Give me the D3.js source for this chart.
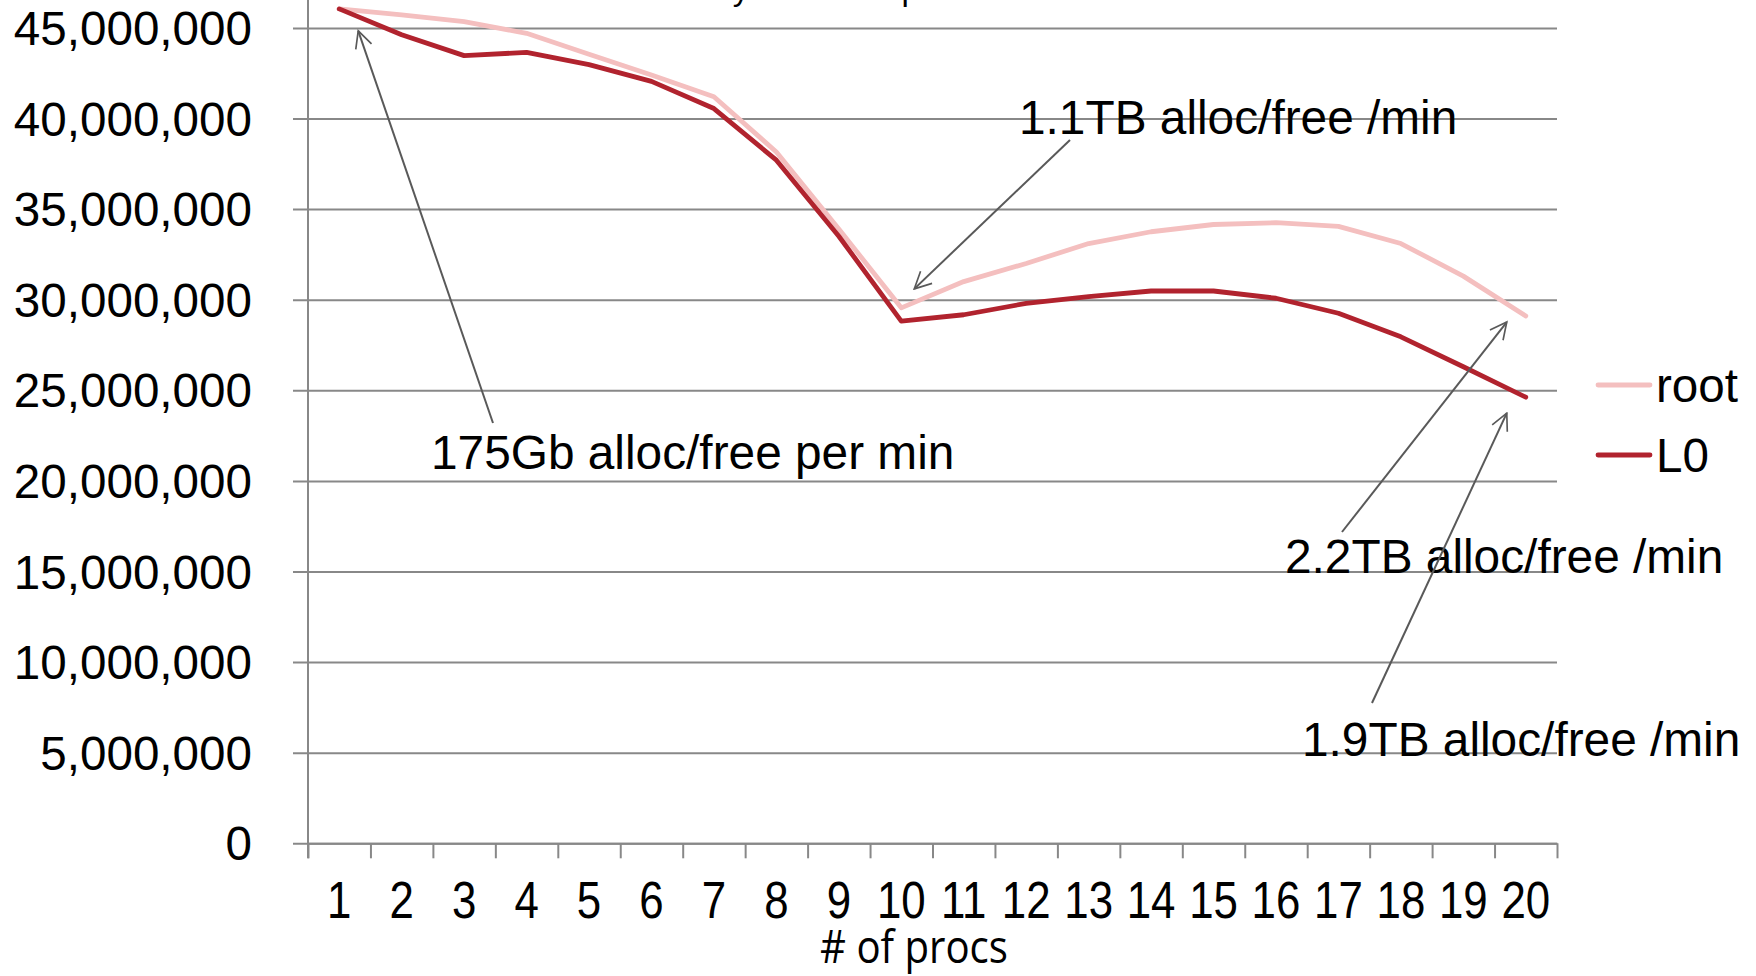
<!DOCTYPE html>
<html>
<head>
<meta charset="utf-8">
<script src="https://cdn.jsdelivr.net/npm/d3@7"></script>
<style>
  html, body { margin: 0; padding: 0; background: #ffffff; }
  svg { display: block; }
  text { font-family: "Liberation Sans", Arial, sans-serif; fill: #000; }
</style>
</head>
<body>
<svg id="chart" width="1756" height="976"></svg>
<script>
// Process counts on the x axis
const categories = ["1","2","3","4","5","6","7","8","9","10","11","12","13","14","15","16","17","18","19","20"];

// Alloc/free operations per minute, per cgroup level
const rootValues = [46050000, 45720000, 45350000, 44700000, 43550000, 42400000, 41200000, 38150000, 33900000, 29550000,
                    31000000, 32000000, 33100000, 33750000, 34150000, 34250000, 34050000, 33100000, 31300000, 29100000];
const l0Values   = [46050000, 44620000, 43470000, 43650000, 42970000, 42050000, 40550000, 37700000, 33500000, 28820000,
                    29170000, 29800000, 30170000, 30480000, 30480000, 30080000, 29250000, 27950000, 26300000, 24620000];

const seriesNames = ["root", "L0"];
const seriesColors = ["#f4bfbf", "#b1232e"];

const yTickValues = [0, 5000000, 10000000, 15000000, 20000000, 25000000, 30000000, 35000000, 40000000, 45000000];

const titleText = "Memory alloc/free per min";
const xAxisTitle = "# of procs";

// Callouts: label text, the series/category the arrow points at
const annotationLabels = ["175Gb alloc/free per min", "1.1TB alloc/free /min", "2.2TB alloc/free /min", "1.9TB alloc/free /min"];
const annotationSeries = ["L0", "root", "root", "L0"];
const annotationCategory = ["1", "10", "20", "20"];

// ---- layout ----
const svg = d3.select("#chart");
const plot = { left: 308, right: 1557, bottom: 843.3 };
const yMax = 50000000;
const pxPer5M = 90.6;

const x = d3.scaleBand().domain(categories).range([plot.left, plot.right]);
const xEdges = d3.scaleLinear().domain([0, categories.length]).range([plot.left, plot.right]);
const y = d3.scaleLinear().domain([0, yMax]).range([plot.bottom, plot.bottom - pxPer5M * (yMax / 5000000)]);
const cx = c => x(c) + x.bandwidth() / 2;

const gridColor = "#888888";
const tickLen = 15;

// horizontal gridlines with outward ticks + labels
const yAxis = d3.axisLeft(y)
  .tickValues(yTickValues)
  .tickSize(-(plot.right - plot.left))
  .tickSizeOuter(0)
  .tickFormat(d3.format(","));
const gy = svg.append("g").attr("transform", `translate(${plot.left},0)`).call(yAxis);
gy.select(".domain").remove();
gy.selectAll(".tick line").attr("stroke", gridColor).attr("stroke-width", 2).attr("x1", -tickLen);
gy.selectAll(".tick text")
  .attr("x", -56)
  .attr("dy", "0.35em")
  .style("font-size", "47.6px")
  .style("font-family", "'Liberation Sans', Arial, sans-serif")
  .attr("fill", "#000");

// vertical axis line
svg.append("line")
  .attr("x1", plot.left).attr("x2", plot.left)
  .attr("y1", y(yMax)).attr("y2", plot.bottom + tickLen)
  .attr("stroke", gridColor).attr("stroke-width", 2);

// x axis: ticks on category boundaries
const xTicksAxis = d3.axisBottom(xEdges)
  .tickValues(d3.range(0, categories.length + 1))
  .tickSize(tickLen)
  .tickSizeOuter(0)
  .tickFormat("");
const gxTicks = svg.append("g").attr("transform", `translate(0,${plot.bottom})`).call(xTicksAxis);
gxTicks.select(".domain").attr("stroke", gridColor).attr("stroke-width", 2);
gxTicks.selectAll(".tick line").attr("stroke", gridColor).attr("stroke-width", 2);

// x axis: category labels
const xLabelAxis = d3.axisBottom(x).tickSize(0).tickSizeOuter(0);
const gxLabels = svg.append("g").attr("transform", `translate(0,${plot.bottom})`).call(xLabelAxis);
gxLabels.select(".domain").remove();
gxLabels.selectAll(".tick text")
  .attr("y", 75)
  .attr("dy", 0)
  .attr("transform", "scale(0.86,1)")
  .style("font-size", "51px")
  .style("font-family", "'Liberation Sans', Arial, sans-serif")
  .attr("fill", "#000");

// axis title
svg.append("text")
  .attr("x", 820).attr("y", 963)
  .attr("textLength", 188)
  .attr("lengthAdjust", "spacingAndGlyphs")
  .style("font-family", "'Open Sans', 'Noto Sans', sans-serif")
  .style("font-size", "45px")
  .text(xAxisTitle);

// chart title (sits mostly above the visible area)
svg.append("text")
  .attr("x", 630).attr("y", 0)
  .style("font-size", "33px")
  .text(titleText);

// series lines
const seriesData = [rootValues, l0Values];
const line = d3.line()
  .x((d, i) => cx(categories[i]))
  .y(d => y(d));

seriesData.forEach((vals, si) => {
  svg.append("path")
    .datum(vals)
    .attr("d", line)
    .attr("fill", "none")
    .attr("stroke", seriesColors[si])
    .attr("stroke-width", 4.8)
    .attr("stroke-linejoin", "round")
    .attr("stroke-linecap", "round");
});

// legend
const legendX = 1598, legendRowY = [385, 455];
seriesNames.forEach((name, i) => {
  svg.append("line")
    .attr("x1", legendX).attr("x2", legendX + 52)
    .attr("y1", legendRowY[i]).attr("y2", legendRowY[i])
    .attr("stroke", seriesColors[i]).attr("stroke-width", 4.8)
    .attr("stroke-linecap", "round");
  svg.append("text")
    .attr("x", legendX + 58).attr("y", legendRowY[i])
    .attr("dy", "0.35em")
    .style("font-size", "47.6px")
    .text(name);
});

// callout arrows + labels
const arrowColor = "#595959";
svg.append("defs").append("marker")
  .attr("id", "openArrow")
  .attr("viewBox", "0 0 12 12")
  .attr("refX", 11).attr("refY", 6)
  .attr("markerWidth", 10).attr("markerHeight", 10)
  .attr("markerUnits", "strokeWidth")
  .attr("orient", "auto")
  .append("path")
  .attr("d", "M1,1 L11,6 L1,11")
  .attr("fill", "none")
  .attr("stroke", arrowColor)
  .attr("stroke-width", 1);

const labelPos = [[431, 469], [1019, 134], [1285, 573], [1302, 756]];
const tailPos = [[493, 423], [1070, 140], [1342, 532], [1372, 703]];
const tipOffset = [[19, 22], [13, -19], [-19, 6], [-19, 16]];

annotationLabels.forEach((label, i) => {
  const vals = annotationSeries[i] === "root" ? rootValues : l0Values;
  const ci = categories.indexOf(annotationCategory[i]);
  const tipX = cx(annotationCategory[i]) + tipOffset[i][0];
  const tipY = y(vals[ci]) + tipOffset[i][1];
  svg.append("line")
    .attr("x1", tailPos[i][0]).attr("y1", tailPos[i][1])
    .attr("x2", tipX).attr("y2", tipY)
    .attr("stroke", arrowColor).attr("stroke-width", 2)
    .attr("marker-end", "url(#openArrow)");
  svg.append("text")
    .attr("x", labelPos[i][0]).attr("y", labelPos[i][1])
    .style("font-size", "47.8px")
    .text(label);
});
</script>
</body>
</html>
